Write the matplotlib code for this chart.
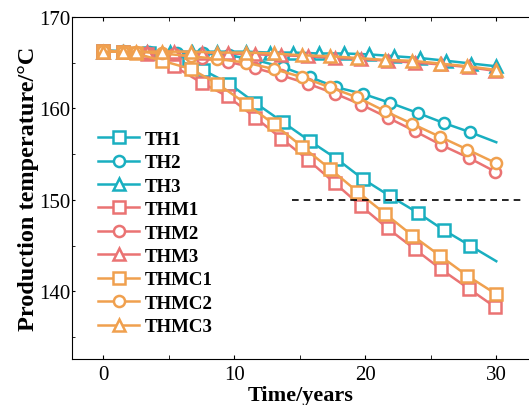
import numpy as np
import matplotlib.pyplot as plt

plt.rcParams['font.family'] = ['Liberation Serif', 'DejaVu Serif']

# time grids (years), each model family has its own steps
t_th_sq = [0, 1.5, 3.5, 5.6, 7.6, 9.6, 11.6, 13.7, 15.8, 17.8, 19.8, 21.9, 24.0, 26.0, 28.0, 30.0]
t_th_tri = [0, 1.5, 3.3, 5.1, 6.8, 8.7, 10.9, 12.7, 14.5, 16.5, 18.4, 20.3, 22.2, 24.2, 26.2, 28.1, 30.0]
t_thm = [0, 1.5, 3.3, 5.4, 7.5, 9.5, 11.6, 13.6, 15.6, 17.7, 19.7, 21.7, 23.8, 25.8, 27.9, 29.9]
t_thmc = [0, 1.5, 2.5, 4.5, 6.7, 8.7, 10.9, 13.0, 15.2, 17.3, 19.4, 21.5, 23.6, 25.7, 27.8, 30.0]

# production temperature (degC)
th1 = [166.3, 166.2, 166.0, 165.3, 164.2, 162.7, 160.6, 158.5, 156.4, 154.5, 152.3, 150.4, 148.6, 146.7, 145.0, 143.3]
th2 = [166.3, 166.3, 166.2, 166.1, 166.0, 165.8, 165.3, 164.5, 163.4, 162.3, 161.6, 160.6, 159.5, 158.4, 157.4, 156.3]
th3 = [166.2, 166.2, 166.2, 166.2, 166.2, 166.2, 166.2, 166.1, 166.1, 166.0, 166.0, 165.9, 165.7, 165.5, 165.2, 164.9, 164.6]
thm1 = [166.3, 166.2, 165.9, 164.6, 162.8, 161.3, 159.0, 156.7, 154.4, 151.8, 149.3, 146.9, 144.6, 142.4, 140.3, 138.3]
thm2 = [166.3, 166.2, 166.1, 165.9, 165.5, 165.1, 164.4, 163.6, 162.7, 161.6, 160.4, 159.0, 157.5, 156.0, 154.6, 153.1]
thm3 = [166.2, 166.2, 166.2, 166.2, 166.1, 166.0, 165.9, 165.8, 165.7, 165.5, 165.4, 165.2, 165.0, 164.8, 164.5, 164.1]
thmc1 = [166.3, 166.2, 166.0, 165.2, 164.3, 162.7, 160.5, 158.3, 155.8, 153.4, 150.9, 148.5, 146.1, 143.9, 141.7, 139.7]
thmc2 = [166.3, 166.2, 166.2, 166.0, 165.7, 165.4, 165.0, 164.3, 163.4, 162.3, 161.2, 159.7, 158.3, 156.9, 155.5, 154.0]
thmc3 = [166.2, 166.2, 166.2, 166.2, 166.2, 166.1, 166.1, 166.0, 165.8, 165.7, 165.5, 165.3, 165.2, 164.9, 164.6, 164.2]

threshold = 150
threshold_span = [14.4, 32.0]

cyan = '#19AFC0'
red = '#EA7373'
orange = '#F0A04E'

series = [
    ('TH1', t_th_sq, th1, cyan, 's', True),
    ('TH2', t_th_sq, th2, cyan, 'o', True),
    ('TH3', t_th_tri, th3, cyan, '^', False),
    ('THM1', t_thm, thm1, red, 's', False),
    ('THM2', t_thm, thm2, red, 'o', False),
    ('THM3', t_thm, thm3, red, '^', False),
    ('THMC1', t_thmc, thmc1, orange, 's', False),
    ('THMC2', t_thmc, thmc2, orange, 'o', False),
    ('THMC3', t_thmc, thmc3, orange, '^', False),
]

fig = plt.figure(figsize=(5.29, 4.06), dpi=100)
ax = fig.add_axes([0.136, 0.113, 0.864, 0.843])

for name, t, y, c, m, skip_last in series:
    me = slice(0, len(t) - 1) if skip_last else None
    ax.plot(t, y, color=c, marker=m, markersize=8, markerfacecolor='white',
            markeredgewidth=1.8, linewidth=1.8, markevery=me, label=name)

ax.plot(threshold_span, [threshold, threshold], color='black', linestyle=(0, (4, 3)), linewidth=1.2)

ax.set_xlim(-2.4, 32.5)
ax.set_ylim(132.6, 170)
ax.set_xticks([0, 10, 20, 30])
ax.set_xticks([5, 15, 25], minor=True)
ax.set_yticks([140, 150, 160, 170])
ax.set_yticks([135, 145, 155, 165], minor=True)
ax.spines['right'].set_visible(False)
ax.tick_params(axis='x', which='both', direction='in', length=3, top=True, labelsize=15, pad=4)
ax.tick_params(axis='y', which='both', direction='in', length=2, labelsize=15, pad=1)

ax.set_xlabel('Time/years', fontsize=16, fontweight='bold', labelpad=1)
ax.set_ylabel('Production temperature/°C', fontsize=17.5, fontweight='bold', labelpad=0)

ax.legend(loc='upper left', bbox_to_anchor=(0.04, 0.69), frameon=False,
          prop={'weight': 'bold', 'size': 13.6}, handlelength=2.2,
          labelspacing=0.33, handletextpad=0.3, borderaxespad=0)

fig.savefig('out.png', dpi=100)
